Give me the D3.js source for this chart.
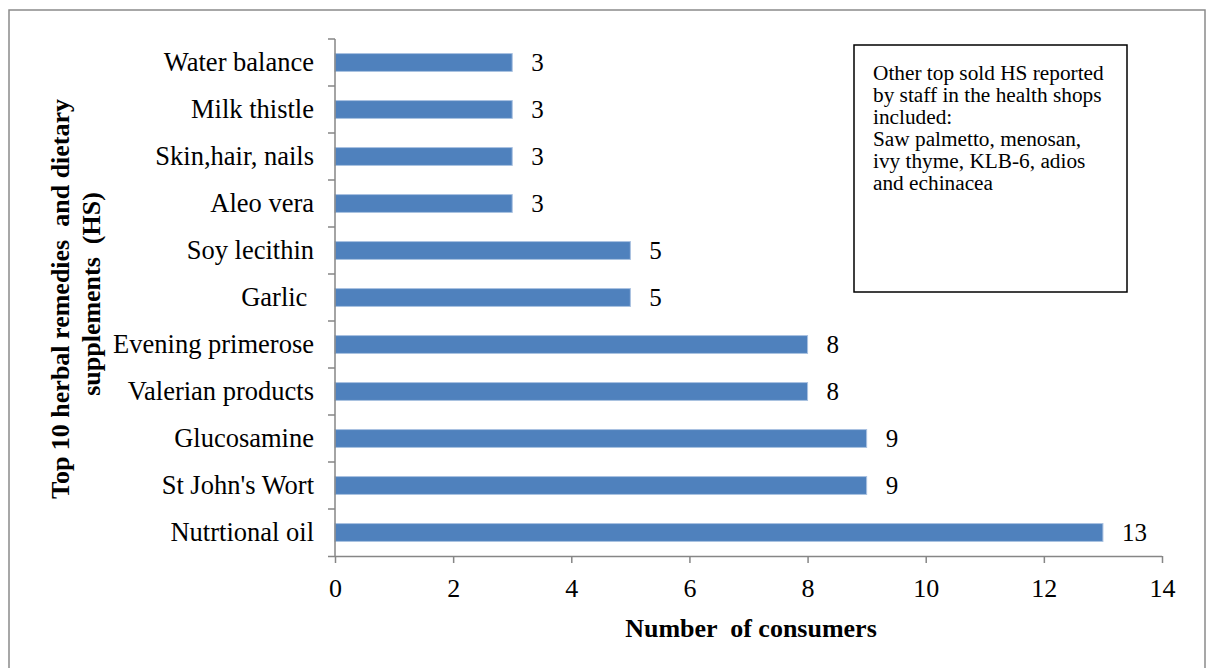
<!DOCTYPE html>
<html>
<head>
<meta charset="utf-8">
<script src="https://cdn.jsdelivr.net/npm/d3@7"></script>
<style>
  html, body { margin: 0; padding: 0; background: #fff; }
  svg { display: block; }
  text { font-family: "Liberation Serif", "Times New Roman", serif; fill: #000; }
</style>
</head>
<body>
<svg id="chart" width="1213" height="668"></svg>
<script>
// Products, top to bottom
const categories = [
  "Water balance", "Milk thistle", "Skin,hair, nails", "Aleo vera",
  "Soy lecithin", "Garlic ", "Evening primerose", "Valerian products",
  "Glucosamine", "St John's Wort", "Nutrtional oil"
];
// Number of consumers per product
const values = [3, 3, 3, 3, 5, 5, 8, 8, 9, 9, 13];
// X axis ticks
const xTicks = [0, 2, 4, 6, 8, 10, 12, 14];

const noteLines = [
  "Other top sold HS reported",
  "by staff in the health shops",
  "included:",
  "Saw palmetto, menosan,",
  "ivy thyme, KLB-6, adios",
  "and echinacea"
];

const svg = d3.select("#chart");
const axisColor = "#868686";

// outer frame
svg.append("rect")
  .attr("x", 9).attr("y", 10)
  .attr("width", 1196).attr("height", 680)
  .attr("fill", "none").attr("stroke", "#8a8a8a").attr("stroke-width", 1.5);

const plot = { left: 335, right: 1162, top: 39, bottom: 556 };

const x = d3.scaleLinear().domain([0, 14]).range([plot.left, plot.right]);
const y = d3.scaleBand().domain(categories)
  .range([plot.top, plot.bottom])
  .paddingInner(0.62).paddingOuter(0.31);

// bars
svg.append("g").selectAll("rect")
  .data(categories)
  .join("rect")
  .attr("x", x(0))
  .attr("y", d => y(d))
  .attr("width", (d, i) => x(values[i]) - x(0))
  .attr("height", y.bandwidth())
  .attr("fill", "#4f81bd")
  .attr("stroke", "#a9c1e0")
  .attr("stroke-width", 1);

// value labels
svg.append("g").selectAll("text")
  .data(categories)
  .join("text")
  .attr("x", (d, i) => x(values[i]) + 19)
  .attr("y", d => y(d) + y.bandwidth() / 2)
  .attr("dominant-baseline", "central")
  .style("font-size", "25px")
  .text((d, i) => values[i]);

// x axis
const xAxis = svg.append("g")
  .attr("transform", `translate(0,${plot.bottom})`)
  .call(d3.axisBottom(x).tickValues(xTicks).tickSize(7).tickSizeOuter(0).tickPadding(16));
xAxis.select(".domain").attr("stroke", axisColor).attr("stroke-width", 1.5)
  .attr("d", `M${plot.left - 7},0.5H${plot.right}`);
xAxis.selectAll(".tick line").attr("stroke", axisColor).attr("stroke-width", 1.5);
xAxis.selectAll(".tick text")
  .style("font-size", "26px").attr("fill", "#000");

// y axis: labels centred on bands, ticks at band boundaries
const yAxis = svg.append("g")
  .attr("transform", `translate(${plot.left},0)`)
  .call(d3.axisLeft(y).tickSize(0).tickPadding(21));
yAxis.select(".domain").attr("stroke", axisColor).attr("stroke-width", 1.5)
  .attr("d", `M0,${plot.top}V${plot.bottom}`);
yAxis.selectAll(".tick text")
  .style("font-size", "26.5px").attr("fill", "#000")
  .style("white-space", "pre");

const step = y.step();
const boundaries = d3.range(categories.length).map(i => plot.top + i * step);
yAxis.append("g").selectAll("line")
  .data(boundaries)
  .join("line")
  .attr("x1", -7).attr("x2", 0)
  .attr("y1", d => d).attr("y2", d => d)
  .attr("stroke", axisColor).attr("stroke-width", 1.5);

// axis titles
svg.append("text")
  .attr("x", 751).attr("y", 637)
  .attr("text-anchor", "middle")
  .style("font-size", "26px").attr("font-weight", "bold")
  .style("white-space", "pre")
  .text("Number  of consumers");

svg.append("text")
  .attr("transform", "translate(60,299) rotate(-90)")
  .attr("text-anchor", "middle")
  .attr("dominant-baseline", "central")
  .style("font-size", "26px").attr("font-weight", "bold")
  .style("white-space", "pre")
  .text("Top 10 herbal remedies  and dietary");

svg.append("text")
  .attr("transform", "translate(91,294) rotate(-90)")
  .attr("text-anchor", "middle")
  .attr("dominant-baseline", "central")
  .style("font-size", "26px").attr("font-weight", "bold")
  .style("white-space", "pre")
  .text("supplements  (HS)");

// note box
svg.append("rect")
  .attr("x", 854).attr("y", 45)
  .attr("width", 273).attr("height", 247)
  .attr("fill", "#fff").attr("stroke", "#000").attr("stroke-width", 1.5);

svg.append("g").selectAll("text")
  .data(noteLines)
  .join("text")
  .attr("x", 873)
  .attr("y", (d, i) => 80 + i * 22)
  .style("font-size", "21.3px")
  .text(d => d);
</script>
</body>
</html>
